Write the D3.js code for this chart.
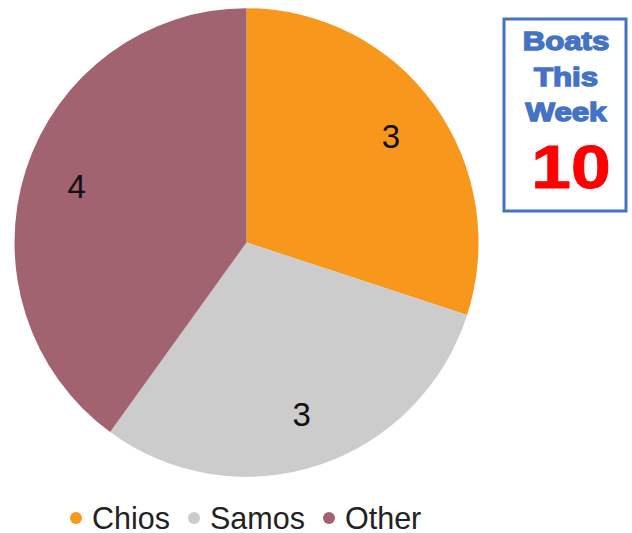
<!DOCTYPE html>
<html>
<head>
<meta charset="utf-8">
<script src="https://cdn.jsdelivr.net/npm/d3@7"></script>
<style>
  body { margin: 0; background: #fff; }
  svg { display: block; font-family: "Liberation Sans", Arial, sans-serif; }
</style>
</head>
<body>
<div id="chart"></div>
<script>
// boats per island this week
var islands = ["Chios", "Samos", "Other"];
var boats = [3, 3, 4];
var islandColors = ["#F7981D", "#CCCCCC", "#A0636F"];
var boxTitle = ["Boats", "This", "Week"];

var width = 632, height = 533;
var cx = 246.5, cy = 242.5, radius = 232;

var svg = d3.select("#chart").append("svg")
    .attr("width", width)
    .attr("height", height);

var color = d3.scaleOrdinal().domain(islands).range(islandColors);

var pie = d3.pie().sort(null).value(function (d) { return d.value; });
var arc = d3.arc().innerRadius(0).outerRadius(radius);
var labelArc = d3.arc().innerRadius(radius * 0.77).outerRadius(radius * 0.77);

var pieData = islands.map(function (name, i) { return { name: name, value: boats[i] }; });

var g = svg.append("g")
    .attr("transform", "translate(" + cx + "," + cy + ") scale(1,1.01)");

var slices = g.selectAll("g.slice")
    .data(pie(pieData))
    .enter().append("g")
    .attr("class", "slice");

slices.append("path")
    .attr("d", arc)
    .style("fill", function (d) { return color(d.data.name); });

slices.append("text")
    .attr("transform", function (d) { return "translate(" + labelArc.centroid(d) + ")"; })
    .attr("dy", "0.35em")
    .attr("font-size", "33px")
    .style("text-anchor", "middle")
    .style("fill", "#111")
    .text(function (d) { return d.data.value; });

// legend
var legendX = [76, 194, 329];
var legend = svg.append("g").selectAll("g")
    .data(islands)
    .enter().append("g")
    .attr("transform", function (d, i) { return "translate(" + legendX[i] + ",518)"; });

legend.append("circle")
    .attr("r", 6)
    .style("fill", function (d) { return color(d); });

legend.append("text")
    .attr("x", 16)
    .attr("dy", "0.35em")
    .attr("font-size", "30.5px")
    .style("fill", "#222")
    .text(function (d) { return d; });

// total box
var total = d3.sum(boats);
var box = svg.append("g");
box.append("rect")
    .attr("x", 504)
    .attr("y", 19)
    .attr("width", 122)
    .attr("height", 192)
    .style("fill", "#fff")
    .style("stroke", "#4472C4")
    .style("stroke-width", 3);

box.selectAll("text.title")
    .data(boxTitle)
    .enter().append("text")
    .attr("class", "title")
    .attr("transform", function (d, i) { return "translate(566," + (50 + i * 35.5) + ") scale(1.2,1)"; })
    .attr("font-size", "26px")
    .attr("font-weight", "bold")
    .style("text-anchor", "middle")
    .style("fill", "#4472C4")
    .style("stroke", "#4472C4")
    .style("stroke-width", 1.4)
    .text(function (d) { return d; });

box.append("text")
    .attr("transform", "translate(571,188) scale(1.15,1)")
    .attr("font-size", "62px")
    .attr("font-weight", "bold")
    .style("text-anchor", "middle")
    .style("fill", "#FF0000")
    .style("stroke", "#FF0000")
    .style("stroke-width", 1)
    .text(total);
</script>
</body>
</html>
